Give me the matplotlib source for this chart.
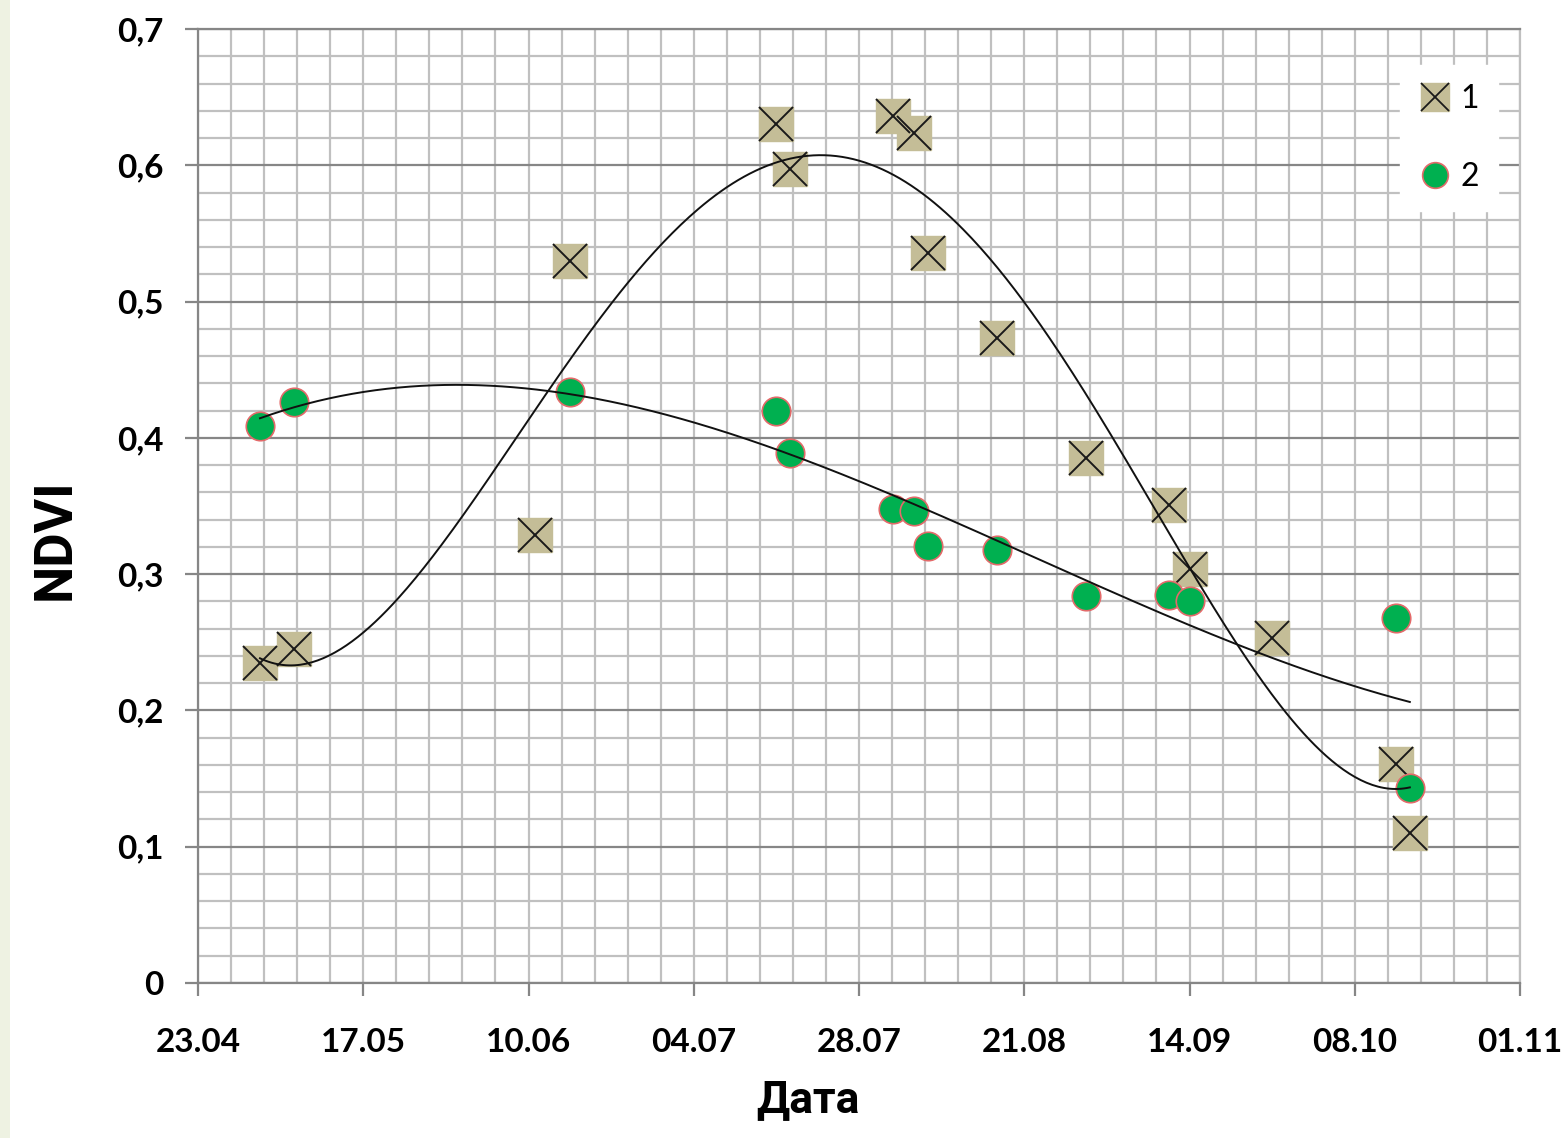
import numpy as np
import matplotlib
matplotlib.use('Agg')
import matplotlib.pyplot as plt
from matplotlib.lines import Line2D
from matplotlib.legend_handler import HandlerTuple
from matplotlib.patches import Rectangle
from datetime import date

# ---------------- data ----------------
dates_1 = ['02.05', '07.05', '11.06', '16.06', '16.07', '18.07', '02.08', '05.08',
           '07.08', '17.08', '30.08', '11.09', '14.09', '26.09', '14.10', '16.10']
ndvi_1 = [0.235, 0.245, 0.329, 0.530, 0.630, 0.597, 0.636, 0.624,
          0.536, 0.473, 0.385, 0.351, 0.304, 0.253, 0.161, 0.110]

dates_2 = ['02.05', '07.05', '16.06', '16.07', '18.07', '02.08', '05.08',
           '07.08', '17.08', '30.08', '11.09', '14.09', '14.10', '16.10']
ndvi_2 = [0.409, 0.426, 0.434, 0.420, 0.389, 0.348, 0.346,
          0.321, 0.318, 0.284, 0.285, 0.280, 0.268, 0.143]

series_labels = ['1', '2']
xtick_labels = ['23.04', '17.05', '10.06', '04.07', '28.07', '21.08', '14.09', '08.10', '01.11']
ytick_values = [0, 0.1, 0.2, 0.3, 0.4, 0.5, 0.6, 0.7]
ytick_labels = ['0', '0,1', '0,2', '0,3', '0,4', '0,5', '0,6', '0,7']
trend_order_1 = 4   # polynomial trend line order, series 1
trend_order_2 = 3   # polynomial trend line order, series 2
YEAR = 2015


def doy(s):
    d, m = s.split('.')
    return date(YEAR, int(m), int(d)).timetuple().tm_yday


x1 = np.array([doy(s) for s in dates_1], float)
x2 = np.array([doy(s) for s in dates_2], float)
y1 = np.array(ndvi_1)
y2 = np.array(ndvi_2)
xt = np.array([doy(s) for s in xtick_labels], float)

# ---------------- style ----------------
W, H = 1563, 1138
fig = plt.figure(figsize=(W / 100, H / 100), dpi=100)
fig.patch.set_facecolor('white')
fig.add_artist(Rectangle((0, 0), 10 / W, 1, transform=fig.transFigure,
                         facecolor='#eef2e2', edgecolor='none', zorder=0))

L, R, T, B = 198, 1520, 29, 983
ax = fig.add_axes([L / W, 1 - B / H, (R - L) / W, (B - T) / H])
ax.set_xlim(xt[0], xt[-1])
ax.set_ylim(0, 0.7)

major_c = '#868686'
minor_c = '#c0c0c0'

# grid
ax.set_xticks(xt)
ax.set_xticks(np.arange(xt[0], xt[-1] + 0.01, (xt[1] - xt[0]) / 5), minor=True)
ax.set_yticks(ytick_values)
ax.set_yticks(np.arange(0, 0.7001, 0.02), minor=True)
ax.grid(which='minor', axis='both', color=minor_c, lw=1.6, zorder=0)
ax.grid(which='major', axis='x', color=minor_c, lw=1.6, zorder=0)
ax.grid(which='major', axis='y', color=major_c, lw=1.6, zorder=0)
ax.set_axisbelow(True)

for s in ['left', 'bottom', 'top']:
    ax.spines[s].set_color(major_c)
    ax.spines[s].set_linewidth(1.6)
ax.spines['right'].set_color(minor_c)
ax.spines['right'].set_linewidth(1.6)

tick_font = dict(family=['Lato', 'DejaVu Sans'], weight='bold', size=24)
ax.set_xticklabels(xtick_labels, **tick_font)
ax.set_yticklabels(ytick_labels, **tick_font)
ax.tick_params(axis='both', which='major', direction='out', length=9.5, width=1.6,
               color=major_c)
ax.tick_params(axis='x', which='major', pad=23)
ax.tick_params(axis='y', which='major', pad=15)
ax.tick_params(which='minor', length=0)

ax.set_xlabel('Дата', family=['Roboto', 'DejaVu Sans'], weight='bold', size=32)
ax.xaxis.set_label_coords((808 - L) / (R - L), -0.101)
ax.set_ylabel('NDVI', family=['Roboto', 'DejaVu Sans'], weight='bold', size=38)
ax.yaxis.set_label_coords(-0.089, (B - 539) / (B - T))

tan = '#c4bd97'
green = '#00b050'
edge_red = '#e36a6a'

ax.plot(x1, y1, ls='none', marker='s', ms=24, mfc=tan, mec=tan, zorder=3)
ax.plot(x1, y1, ls='none', marker='x', ms=24, mec='#1a1a1a', mew=1.4, zorder=3)
ax.plot(x2, y2, ls='none', marker='o', ms=20.5, mfc=green, mec=edge_red, mew=1.2, zorder=4)

# polynomial trend lines (least-squares fits to the data)
c1 = (x1.min() + x1.max()) / 2
c2 = (x2.min() + x2.max()) / 2
tt1 = np.linspace(x1.min(), x1.max(), 400)
tt2 = np.linspace(x2.min(), x2.max(), 400)
p1 = np.polyfit((x1 - c1) / 100, y1, trend_order_1)
p2 = np.polyfit((x2 - c2) / 100, y2, trend_order_2)
ax.plot(tt1, np.polyval(p1, (tt1 - c1) / 100), color='#111111', lw=1.4, zorder=5)
ax.plot(tt2, np.polyval(p2, (tt2 - c2) / 100), color='#111111', lw=1.4, zorder=5)

# legend
h1a = Line2D([], [], ls='none', marker='s', ms=19.5, mfc=tan, mec=tan)
h1b = Line2D([], [], ls='none', marker='x', ms=19.5, mec='#1a1a1a', mew=1.3)
h2 = Line2D([], [], ls='none', marker='o', ms=18.5, mfc=green, mec=edge_red, mew=1.2)
leg = ax.legend([(h1a, h1b), h2], series_labels, handler_map={tuple: HandlerTuple(ndivide=1)},
                loc='center', bbox_to_anchor=(1449 / W, 1 - 138 / H), bbox_transform=fig.transFigure,
                prop=dict(family=['Lato', 'DejaVu Sans'], size=23), frameon=True, fancybox=False,
                facecolor='white', edgecolor='white', framealpha=1, handlelength=1.0,
                handletextpad=0.3, labelspacing=1.5, borderpad=0.6, numpoints=1)
leg.set_zorder(6)

fig.savefig('out.png', dpi=100)
